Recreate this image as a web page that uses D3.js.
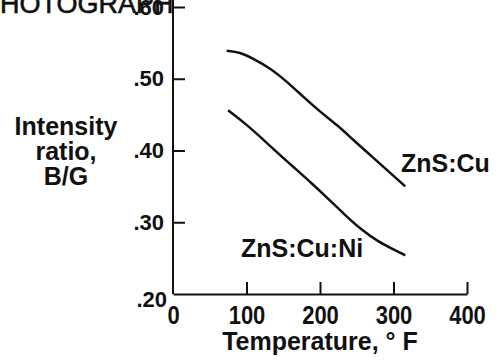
<!DOCTYPE html>
<html>
<head>
<meta charset="utf-8">
<script src="https://cdn.jsdelivr.net/npm/d3@7"></script>
<style>
  body { margin: 0; background: #fff; }
  svg { display: block; font-family: 'Liberation Sans', Arial, sans-serif; }
  .axis path, .axis line { stroke: #111; stroke-width: 2; }
  .axis text { font-size: 22px; font-weight: bold; fill: #111; }
  .axis--x text { transform-box: fill-box; transform-origin: center; transform: scaleY(1.15); }
  .title { font-size: 25px; font-weight: bold; fill: #111; }
</style>
</head>
<body>
<svg id="chart" width="500" height="363"></svg>
<script>
// DATA
const xTicks = [0, 100, 200, 300, 400];
const yTicks = [0.2, 0.3, 0.4, 0.5, 0.6];
const cuTemps = [73, 91, 109, 132, 155, 177, 200, 223, 245, 268, 291, 316];
const cuValues = [0.539, 0.537, 0.528, 0.515, 0.496, 0.475, 0.454, 0.436, 0.415, 0.394, 0.373, 0.350];
const niTemps = [75, 98, 121, 143, 166, 189, 211, 234, 257, 279, 302, 316];
const niValues = [0.456, 0.438, 0.417, 0.396, 0.375, 0.354, 0.333, 0.310, 0.289, 0.273, 0.261, 0.254];

// SETUP
let svg = d3.select('svg'),
  x = d3.scaleLinear().domain([0, 400]).range([173, 467]),
  y = d3.scaleLinear().domain([0.2, 0.6]).range([294, 7]);

// scanned caption cut off at the top
svg.append('text')
  .attr('x', -18)
  .attr('y', 13)
  .style('font-size', '27px')
  .style('fill', '#111')
  .style('stroke', '#111')
  .style('stroke-width', 0.6)
  .text('PHOTOGRAPH');

// AXES
svg.append('g')
  .attr('class', 'axis axis--x')
  .attr('transform', 'translate(0,' + y(0.2) + ')')
  .call(d3.axisBottom(x).tickValues(xTicks).tickSizeInner(-12).tickSizeOuter(0).tickPadding(6))
  .call(g => g.select('.tick line').remove())
  .selectAll('text')
  .attr('dy', '1.05em');

svg.append('g')
  .attr('class', 'axis axis--y')
  .attr('transform', 'translate(' + x(0) + ',0)')
  .call(d3.axisLeft(y).tickValues(yTicks)
    .tickFormat(d => d3.format('.2f')(d).replace(/^0/, ''))
    .tickSizeInner(-12).tickSizeOuter(0).tickPadding(9))
  .call(g => g.select('.domain').attr('d', 'M0,0V' + y(0.2)))
  .call(g => g.selectAll('.tick').filter(d => d === 0.2).select('line').remove())
  .call(g => g.selectAll('.tick').filter(d => d === 0.2).select('text').attr('dy', '0.55em').attr('x', -6));

// AXIS TITLES
svg.append('text')
  .attr('class', 'title')
  .attr('x', x(200))
  .attr('y', 350)
  .attr('text-anchor', 'middle')
  .text('Temperature, \u00b0 F');

const yTitle = svg.append('text')
  .attr('class', 'title')
  .attr('text-anchor', 'middle');
['Intensity', 'ratio,', 'B/G'].forEach((s, i) => {
  yTitle.append('tspan').attr('x', 66).attr('y', 135 + i * 25).text(s);
});

// CURVES
const line = d3.line()
  .x(d => x(d[0]))
  .y(d => y(d[1]))
  .curve(d3.curveBasis);

[[cuTemps, cuValues], [niTemps, niValues]].forEach(([ts, vs]) => {
  svg.append('path')
    .datum(ts.map((t, i) => [t, vs[i]]))
    .attr('d', line)
    .attr('fill', 'none')
    .attr('stroke', '#111')
    .attr('stroke-width', 2.5);
});

// CURVE LABELS
svg.append('text').attr('class', 'title').attr('x', 401).attr('y', 172).text('ZnS:Cu');
svg.append('text').attr('class', 'title').attr('x', 241).attr('y', 257).text('ZnS:Cu:Ni');
</script>
</body>
</html>
